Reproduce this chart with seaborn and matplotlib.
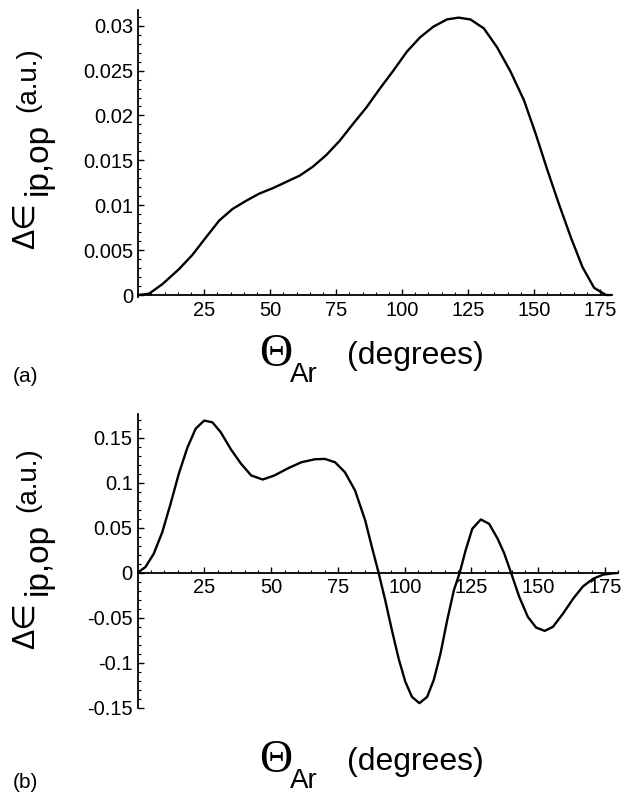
import matplotlib
matplotlib.use("Agg")
import matplotlib.pyplot as plt
from matplotlib.ticker import FixedLocator, MultipleLocator, FuncFormatter
import seaborn as sns

sns.set_style("ticks")
plt.rcParams['font.family'] = ['Liberation Sans', 'DejaVu Sans']
plt.rcParams['text.color'] = 'black'
plt.rcParams['xtick.color'] = 'black'
plt.rcParams['ytick.color'] = 'black'
plt.rcParams['axes.edgecolor'] = 'black'

# panel (a): curve
theta_a = [0, 4.1, 9.1, 15.5, 20.6, 25.6, 30.7, 35.8, 40.9, 45.9, 51.0, 56.1,
           61.2, 66.2, 71.3, 76.4, 81.5, 86.5, 91.6, 96.7, 101.8, 106.8, 111.9,
           117.0, 121.4, 125.9, 131.0, 136.0, 141.1, 146.2, 150.6, 155.1, 159.5,
           164.0, 168.4, 172.8, 177.3, 179.2]
de_a = [0, 0.00015, 0.0012, 0.0029, 0.0045, 0.0064, 0.0083, 0.0096, 0.0105,
        0.0113, 0.0119, 0.0126, 0.0133, 0.0143, 0.0156, 0.0172, 0.0191, 0.0209,
        0.0230, 0.0250, 0.0271, 0.0287, 0.0299, 0.0307, 0.0309, 0.0307, 0.0297,
        0.0276, 0.0249, 0.0217, 0.0180, 0.0139, 0.0101, 0.0064, 0.0031, 0.0008,
        0.0, 0.0]

# panel (b)
theta_b = [0, 2.9, 6.0, 9.2, 12.3, 15.4, 18.6, 21.7, 24.9, 28.0, 31.1, 34.9,
           38.7, 42.5, 46.8, 51.2, 56.3, 61.3, 66.3, 70.1, 73.9, 77.6, 81.4,
           85.2, 87.7, 90.2, 92.7, 95.2, 97.7, 100.2, 102.7, 105.5, 108.4, 110.9,
           113.4, 115.9, 118.4, 120.6, 122.8, 125.3, 128.5, 131.6, 134.8, 137.3,
           139.8, 142.9, 146.1, 149.2, 152.4, 155.5, 159.3, 163.1, 166.8, 170.6,
           174.3, 178.1, 180]
de_b = [0, 0.0063, 0.021, 0.045, 0.0765, 0.110, 0.139, 0.160, 0.169, 0.167,
        0.156, 0.137, 0.121, 0.108, 0.1035, 0.108, 0.116, 0.1227, 0.126, 0.1264,
        0.1227, 0.1116, 0.0913, 0.058, 0.0285, 0, -0.0307, -0.064, -0.0953,
        -0.121, -0.138, -0.145, -0.138, -0.119, -0.0898, -0.0528, -0.0196, 0,
        0.0248, 0.0488, 0.0591, 0.0543, 0.0377, 0.0211, 0, -0.027, -0.0491,
        -0.061, -0.0647, -0.0602, -0.0454, -0.0288, -0.0151, -0.0067, -0.0022,
        -0.0007, -0.0004]

xticks = [25, 50, 75, 100, 125, 150, 175]
yticks_a = [0, 0.005, 0.01, 0.015, 0.02, 0.025, 0.03]
yticks_b = [-0.15, -0.1, -0.05, 0, 0.05, 0.1, 0.15]

W, H = 630, 796
fig = plt.figure(figsize=(W / 100, H / 100), dpi=100)

def px(x, y):
    return x / W, 1 - y / H

ax_a = fig.add_axes([0.2195, 1 - 296.8 / H, 0.7516, 286.8 / H])
ax_b = fig.add_axes([0.2186, 1 - 708.2 / H, 0.7629, 294.2 / H])

def style_axis(ax, x, y, xlim, ylim, yticks, yminor):
    sns.lineplot(x=x, y=y, ax=ax, color='black', linewidth=1.7, estimator=None)
    ax.set_xlim(*xlim)
    ax.set_ylim(*ylim)
    ax.spines['top'].set_visible(False)
    ax.spines['right'].set_visible(False)
    ax.spines['left'].set_position(('data', 0))
    ax.spines['bottom'].set_position(('data', 0))
    for s in ('left', 'bottom'):
        ax.spines[s].set_linewidth(1.3)
    ax.xaxis.set_major_locator(FixedLocator(xticks))
    ax.xaxis.set_minor_locator(MultipleLocator(5))
    ax.yaxis.set_major_locator(FixedLocator(yticks))
    ax.yaxis.set_minor_locator(MultipleLocator(yminor))
    fmt = FuncFormatter(lambda v, p: '{:g}'.format(round(v, 4)))
    ax.xaxis.set_major_formatter(fmt)
    ax.yaxis.set_major_formatter(fmt)
    ax.tick_params(which='major', direction='in', length=4, width=1,
                   labelsize=14.5, pad=4, colors='black')
    ax.tick_params(which='minor', direction='in', length=2, width=0.8,
                   colors='black')
    ax.tick_params(axis='y', pad=3.6)
    ax.set_xlabel('')
    ax.set_ylabel('')
    ax.set_facecolor('white')

style_axis(ax_a, theta_a, de_a, (0, 179.5), (-0.0002, 0.03175), yticks_a, 0.001)
style_axis(ax_b, theta_b, de_b, (0, 180), (-0.1506, 0.1763), yticks_b, 0.01)

# axis titles built from pieces, as in the original
for dy, tag in ((0, '(a)'), (406, '(b)')):
    fig.text(*px(259, 366 + dy), 'Θ', family=['Liberation Serif', 'DejaVu Serif'],
             fontsize=33, ha='left', va='baseline', color='black')
    fig.text(*px(290, 382 + dy), 'Ar', fontsize=20, ha='left', va='baseline',
             color='black')
    fig.text(*px(347, 356 + dy), '(degrees)', fontsize=23, ha='left',
             va='center', color='black')
    fig.text(*px(13, 372 + dy + 5), tag, fontsize=15, ha='left', va='center',
             color='black')

for dy in (0, 400):
    fig.text(*px(26, 226 + dy), 'Δ∈', fontsize=22, rotation=90,
             ha='center', va='center', color='black')
    fig.text(*px(38.5, 159 + dy), 'ip,op', fontsize=24, rotation=90,
             ha='center', va='center', color='black')
    fig.text(*px(28, 80 + dy), '(a.u.)', fontsize=20, rotation=90,
             ha='center', va='center', color='black')

fig.savefig('out.png', dpi=100, facecolor='white')
